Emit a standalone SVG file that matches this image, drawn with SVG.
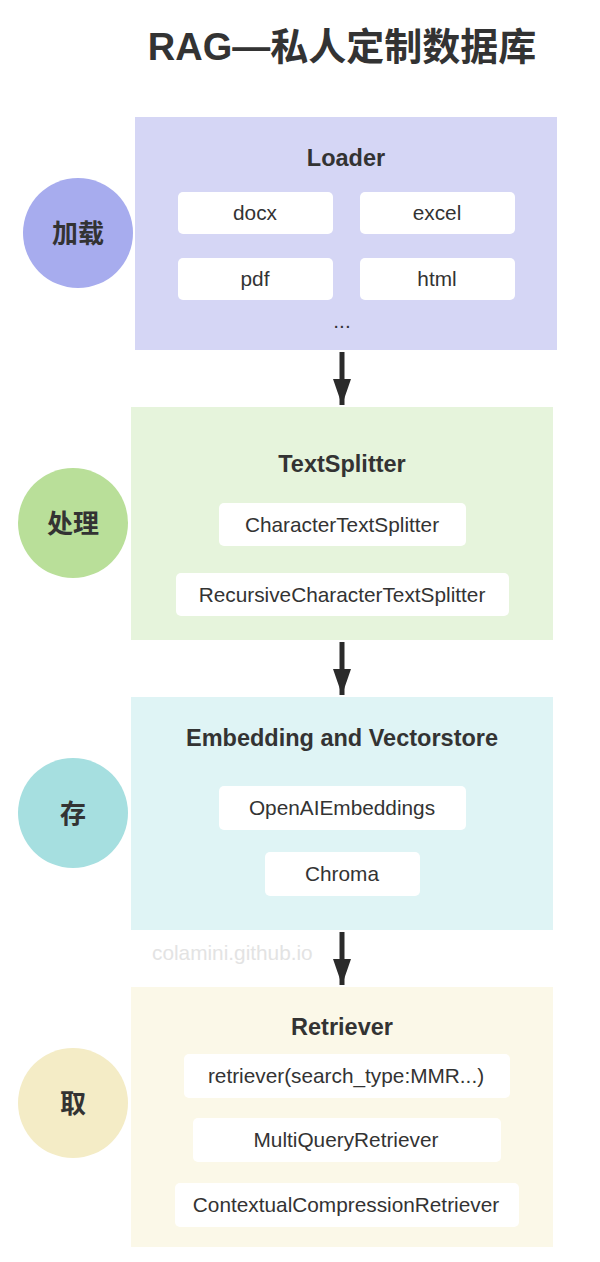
<svg xmlns="http://www.w3.org/2000/svg" width="600" height="1262" viewBox="0 0 600 1262">
<style>
.t{font-family:"Liberation Sans","Noto Sans CJK SC",sans-serif;fill:#333;text-anchor:middle}
.h{font-weight:bold;font-size:23.5px}
.b{font-size:20.8px}
.c{font-weight:bold;font-size:26px}
.box{fill:#fff}
</style>
<defs>
<marker id="ah" markerWidth="26" markerHeight="18" refX="26" refY="9" markerUnits="userSpaceOnUse" orient="auto" viewBox="0 0 26 18">
<path d="M0,0 L26,9 L0,18 Z" fill="#2b2b2b"/>
</marker>
</defs>
<rect width="600" height="1262" fill="#fff"/>
<text class="t" x="342" y="60" style="font-weight:bold;font-size:38px">RAG—私人定制数据库</text>

<g id="loader">
<rect x="135" y="117" width="422" height="233" fill="#d5d6f5"/>
<text class="t h" x="346" y="166">Loader</text>
<rect class="box" x="178" y="192" width="155" height="42" rx="5"/>
<text class="t b" x="255" y="220">docx</text>
<rect class="box" x="360" y="192" width="155" height="42" rx="5"/>
<text class="t b" x="437" y="220">excel</text>
<rect class="box" x="178" y="258" width="155" height="42" rx="5"/>
<text class="t b" x="255" y="286">pdf</text>
<rect class="box" x="360" y="258" width="155" height="42" rx="5"/>
<text class="t b" x="437" y="286">html</text>
<text class="t b" x="342" y="328">...</text>
</g>
<g id="c-load">
<ellipse cx="78" cy="233" rx="55" ry="55" fill="#a7acee"/>
<text class="t c" x="78" y="243">加载</text>
</g>

<g id="splitter">
<rect x="131" y="407" width="422" height="233" fill="#e6f4dc"/>
<text class="t h" x="342" y="472">TextSplitter</text>
<rect class="box" x="219" y="503" width="247" height="43" rx="5"/>
<text class="t b" x="342" y="532">CharacterTextSplitter</text>
<rect class="box" x="176" y="573" width="333" height="43" rx="5"/>
<text class="t b" x="342" y="602">RecursiveCharacterTextSplitter</text>
</g>
<g id="c-proc">
<ellipse cx="73" cy="523" rx="55" ry="55" fill="#b9df99"/>
<text class="t c" x="73" y="533">处理</text>
</g>

<g id="store">
<rect x="131" y="697" width="422" height="233" fill="#dff4f5"/>
<text class="t h" x="342" y="746">Embedding and Vectorstore</text>
<rect class="box" x="219" y="786" width="247" height="44" rx="5"/>
<text class="t b" x="342" y="815">OpenAIEmbeddings</text>
<rect class="box" x="265" y="852" width="155" height="44" rx="5"/>
<text class="t b" x="342" y="881">Chroma</text>
</g>
<g id="c-store">
<ellipse cx="73" cy="813" rx="55" ry="55" fill="#a6dfe0"/>
<text class="t c" x="73" y="823">存</text>
</g>

<text x="152" y="960" style="font-family:'Liberation Sans',sans-serif;font-size:20.8px;fill:#e3e3e3">colamini.github.io</text>

<g id="retriever">
<rect x="131" y="987" width="422" height="260" fill="#fbf8e8"/>
<text class="t h" x="342" y="1035">Retriever</text>
<rect class="box" x="184" y="1054" width="326" height="44" rx="5"/>
<text class="t b" x="346" y="1083">retriever(search_type:MMR...)</text>
<rect class="box" x="193" y="1118" width="308" height="44" rx="5"/>
<text class="t b" x="346" y="1147">MultiQueryRetriever</text>
<rect class="box" x="175" y="1183" width="344" height="44" rx="5"/>
<text class="t b" x="346" y="1212">ContextualCompressionRetriever</text>
</g>
<g id="c-ret">
<ellipse cx="73" cy="1103" rx="55" ry="55" fill="#f4ecc6"/>
<text class="t c" x="73" y="1113">取</text>
</g>

<g id="connectors" stroke="#2b2b2b" stroke-width="5" fill="none">
<line x1="342" y1="352" x2="342" y2="405" marker-end="url(#ah)"/>
<line x1="342" y1="642" x2="342" y2="695" marker-end="url(#ah)"/>
<line x1="342" y1="932" x2="342" y2="985" marker-end="url(#ah)"/>
</g>
</svg>
